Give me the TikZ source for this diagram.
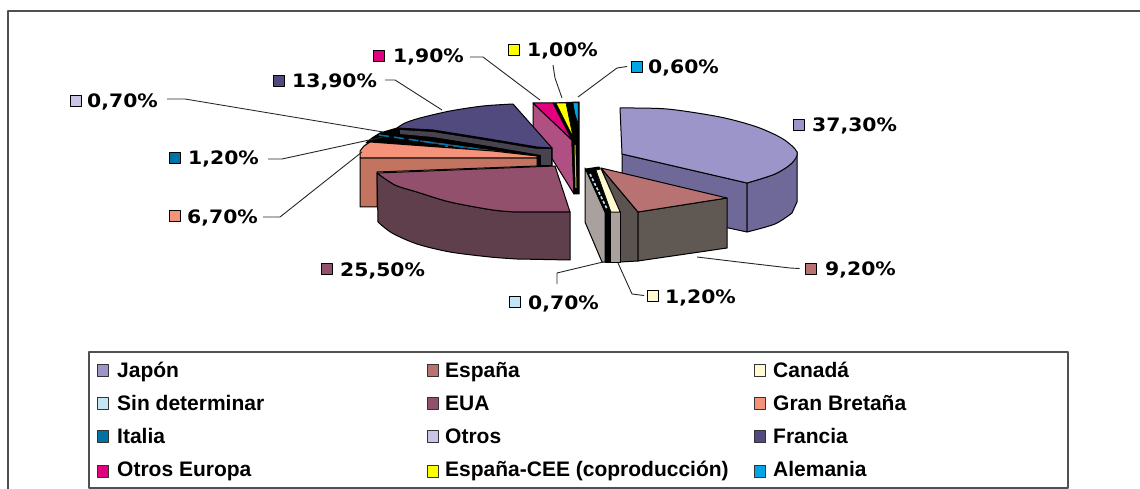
\documentclass[tikz,border=0pt]{standalone}
\usepackage{fontspec}
\newfontfamily\lblfont[FakeStretch=1.1]{DejaVu Sans}
\newfontfamily\legfont{Liberation Sans}
\definecolor{japtop}{HTML}{9C95C9}
\definecolor{japside}{HTML}{6E6999}
\definecolor{esptop}{HTML}{B97272}
\definecolor{espside}{HTML}{5A534F}
\definecolor{espside2}{HTML}{5F5853}
\definecolor{slab}{HTML}{A8A19D}
\definecolor{cream}{HTML}{FFFAD2}
\definecolor{sind}{HTML}{C2E6F5}
\definecolor{pinkface}{HTML}{B04F82}
\definecolor{oeur}{HTML}{E2007F}
\definecolor{cee}{HTML}{FFFF00}
\definecolor{alem}{HTML}{00A6E6}
\definecolor{fratop}{HTML}{514A7F}
\definecolor{fraside}{HTML}{48434F}
\definecolor{ital}{HTML}{0072A3}
\definecolor{gbtop}{HTML}{F49379}
\definecolor{gbside}{HTML}{C27461}
\definecolor{euatop}{HTML}{93506C}
\definecolor{euaside}{HTML}{5E3F4B}
\definecolor{otros}{HTML}{C9C5E5}
\definecolor{framec}{HTML}{505050}
\begin{document}
\begin{tikzpicture}[x=1pt,y=-1pt,line join=round,
  frame/.style={draw=framec,line width=1.6pt},
  pe/.style={draw=black,line width=1pt},
  legsq/.style={draw=black!80,line width=0.8pt,minimum width=11pt,minimum height=12pt,inner sep=0pt},
  legtxt/.style={anchor=base west,inner sep=0pt,font=\legfont\bfseries\fontsize{21}{21}\selectfont},
  pcsq/.style={draw=black,line width=0.9pt,minimum width=11pt,minimum height=11pt,inner sep=0pt},
  pctxt/.style={anchor=base west,inner sep=0pt,font=\lblfont\bfseries\fontsize{18.5}{18.5}\selectfont},
  leader/.style={draw=black!85,line width=0.9pt}]
\useasboundingbox (0,0) rectangle (1140,489);
% outer frame
\draw[frame] (8,489) -- (8,11) -- (1140,11);
% legend frame
\draw[frame] (89,352) rectangle (1068,488);

% ---------- Japon ----------
\filldraw[pe,fill=japside] (622,154) -- (747,183) -- (747,232) -- (622,205) -- cycle;
\filldraw[pe,fill=japside] plot[smooth] coordinates {(747,183) (775,174) (792,163) (797,152)} -- (797,202) -- plot[smooth] coordinates {(792,213) (775,224) (747,232)} -- cycle;
\filldraw[pe,fill=japtop] plot[smooth] coordinates {(620,108) (667,109) (720,117) (757,127) (783,139) (797,152) (792,163) (775,174) (747,183)} -- (622,154) -- cycle;

% ---------- Espana ----------
\filldraw[pe,fill=espside] (601,168) -- (638,212) -- (638,261) -- (620,262) -- (620,212) -- cycle;
\filldraw[pe,fill=espside2] (638,212) -- (727,198) -- (727,248) -- (638,261) -- cycle;
\filldraw[pe,fill=esptop] (601,168) -- (727,198) -- (638,212) -- cycle;

% ---------- Sin determinar / Canada ----------
\filldraw[pe,fill=slab] (585,168) -- (605,212) -- (605,262) -- (602,262) -- (585,222) -- cycle;
\filldraw[pe,fill=black] (605,212) -- (610,212) -- (610,262) -- (605,262) -- cycle;
\filldraw[pe,fill=slab] (610,212) -- (620,212) -- (620,262) -- (610,262) -- cycle;
\filldraw[pe,fill=black] (586,169) -- (599,167) -- (620,212) -- (605,212) -- cycle;
\filldraw[draw=black,line width=0.6pt,fill=cream] (596,170) -- (601,169) -- (620,212) -- (611,212) -- cycle;
\draw[sind,line width=1.6pt,dash pattern=on 3pt off 2pt] (590,174) -- (607,209);

% ---------- Otros Europa / Espana-CEE / Alemania ----------
\filldraw[pe,fill=pinkface] (533,103) -- (572,140) -- (574,194) -- (533,128) -- cycle;
\filldraw[pe,fill=black] (553,103) -- (579,102) -- (579,194) -- (574,194) -- (572,140) -- cycle;
\filldraw[pe,fill=oeur] (533,103) -- (553,103) -- (572,140) -- cycle;
\filldraw[draw=black,line width=0.6pt,fill=cee] (556,103) -- (566,103) -- (573,137) -- cycle;
\draw[cee!80!black,line width=1pt] (575,145) -- (576,188);
\filldraw[draw=black,line width=0.5pt,fill=alem] (573,103) -- (578,103) -- (578,124) -- (575,114) -- cycle;

% ---------- Francia / Otros / Italia ----------
\filldraw[pe,fill=black] (366,143) -- (372,138) -- (380,133) -- (397,128) -- (433,130) -- (483,138) -- (537,147) -- (552,148) -- (552,166) -- (537,166) -- (537,156) -- (493,151) -- (372,142) -- cycle;
\fill[fraside] (400,130) -- (433,132) -- (483,140) -- (537,149) -- (551,149) -- (551,165) -- (541,165) -- (541,155) -- (483,145) -- (433,137) -- (400,134) -- cycle;
\draw[fraside,line width=1.5pt] (420,141) -- (536,157);
\draw[ital,line width=1.6pt,dash pattern=on 10pt off 5pt] (379,135) -- (490,151);
\draw[ital,line width=1.4pt,dash pattern=on 3pt off 21pt] (445,146) -- (530,156);
\filldraw[pe,fill=fratop] plot[smooth] coordinates {(397,128) (405,123) (420,118) (450,111) (483,106) (513,104)} -- (552,148) -- (537,147) -- (483,138) -- (433,130) -- cycle;

% ---------- Gran Bretana ----------
\filldraw[pe,fill=gbside] (360,158) -- (537,158) -- (537,166) -- (377,172) -- (377,207) -- (360,207) -- cycle;
\filldraw[pe,fill=gbtop] (360,158) -- (360,151) -- (364,146) -- (370,142) -- (493,151) -- (537,156) -- (537,158) -- cycle;

% ---------- EUA ----------
\filldraw[pe,fill=euaside] plot[smooth] coordinates {(377,173) (395,185) (417,192) (450,202) (493,210) (517,212)} -- (570,212) -- (570,260) -- plot[smooth] coordinates {(517,259) (490,257) (450,252) (417,244) (392,233) (378,222)} -- cycle;
\filldraw[pe,fill=euatop] (377,173) -- (555,166) -- (570,212) -- plot[smooth] coordinates {(517,212) (493,210) (450,202) (417,192) (395,185) (377,173)} -- cycle;

% ---------- pie labels ----------
\node[pcsq,fill=otros] (sqOt) at (75.5,101) {};
\node[pctxt] (tOt) at (87,108) {0,70\%};
\node[pcsq,fill=fratop] (sqFr) at (279,81) {};
\node[pctxt] (tFr) at (292,88) {13,90\%};
\node[pcsq,fill=ital] (sqIt) at (174.5,158) {};
\node[pctxt] (tIt) at (188,165) {1,20\%};
\node[pcsq,fill=gbtop] (sqGB) at (174.5,216) {};
\node[pctxt] (tGB) at (187,223) {6,70\%};
\node[pcsq,fill=euatop] (sqEU) at (326.5,269) {};
\node[pctxt] (tEU) at (340,276) {25,50\%};
\node[pcsq,fill=oeur] (sqOE) at (378.5,56) {};
\node[pctxt] (tOE) at (393,63) {1,90\%};
\node[pcsq,fill=cee] (sqCE) at (513.5,49.5) {};
\node[pctxt] (tCE) at (527,57) {1,00\%};
\node[pcsq,fill=alem] (sqAl) at (637,66.5) {};
\node[pctxt] (tAl) at (648,74) {0,60\%};
\node[pcsq,fill=japtop] (sqJa) at (798.5,125) {};
\node[pctxt] (tJa) at (812,132) {37,30\%};
\node[pcsq,fill=esptop] (sqEs) at (810.5,268.5) {};
\node[pctxt] (tEs) at (825,275) {9,20\%};
\node[pcsq,fill=cream] (sqCa) at (653,295.5) {};
\node[pctxt] (tCa) at (665,303) {1,20\%};
\node[pcsq,fill=sind] (sqSd) at (514.5,302) {};
\node[pctxt] (tSd) at (528,309) {0,70\%};

% ---------- leaders ----------
\coordinate (pOt) at (383,132);
\coordinate (pIt) at (383,137);
\coordinate (pGB) at (362,152);
\coordinate (pFr) at (442,110);
\coordinate (pOE) at (540,100);
\coordinate (pCE) at (562,98);
\coordinate (pAl) at (578,97);
\coordinate (pEs) at (697,257);
\coordinate (pCa) at (618,263);
\coordinate (pSd) at (603,262);
\draw[leader] ([xshift=9pt]tOt.east |- 0,99) -- (185,99) -- (pOt);
\draw[leader] (268,159) -- (282,159) -- (pIt);
\draw[leader] (263,217) -- (280,217) -- (pGB);
\draw[leader] (385,80) -- (395,80) -- (pFr);
\draw[leader] (470,57) -- (483,57) -- (pOE);
\draw[leader] (553,65) -- (555,78) -- (pCE);
\draw[leader] ([xshift=-4pt]sqAl.west) -- (617,68) -- (pAl);
\draw[leader] ([xshift=-5pt]sqEs.west) -- (790,268) -- (747,263) -- (pEs);
\draw[leader] ([xshift=-3pt]sqCa.west) -- (632,294) -- (pCa);
\draw[leader] (557,284) -- (557,273) -- (pSd);

% ---------- legend ----------
\node[legsq,fill=japtop] (l1) at (103,370) {};
\node[legtxt] (lt1) at (117,377) {Japón};
\node[legsq,fill=sind] (l2) at (103,403) {};
\node[legtxt] (lt2) at (117,410) {Sin determinar};
\node[legsq,fill=ital] (l3) at (103,436.5) {};
\node[legtxt] (lt3) at (117,443) {Italia};
\node[legsq,fill=oeur] (l4) at (103,471) {};
\node[legtxt] (lt4) at (117,476.5) {Otros Europa};
\node[legsq,fill=esptop] (l5) at (433,370) {};
\node[legtxt] (lt5) at (445,377) {España};
\node[legsq,fill=euatop] (l6) at (433,403) {};
\node[legtxt] (lt6) at (445,410) {EUA};
\node[legsq,fill=otros] (l7) at (433,436.5) {};
\node[legtxt] (lt7) at (445,443) {Otros};
\node[legsq,fill=cee] (l8) at (433,471) {};
\node[legtxt] (lt8) at (445,476.5) {España-CEE (coproducción)};
\node[legsq,fill=cream] (l9) at (760,370) {};
\node[legtxt] (lt9) at (773,377) {Canadá};
\node[legsq,fill=gbtop] (l10) at (760,403) {};
\node[legtxt] (lt10) at (773,410) {Gran Bretaña};
\node[legsq,fill=fratop] (l11) at (760,436.5) {};
\node[legtxt] (lt11) at (773,443) {Francia};
\node[legsq,fill=alem] (l12) at (760,471) {};
\node[legtxt] (lt12) at (773,476.5) {Alemania};
\end{tikzpicture}
\end{document}
